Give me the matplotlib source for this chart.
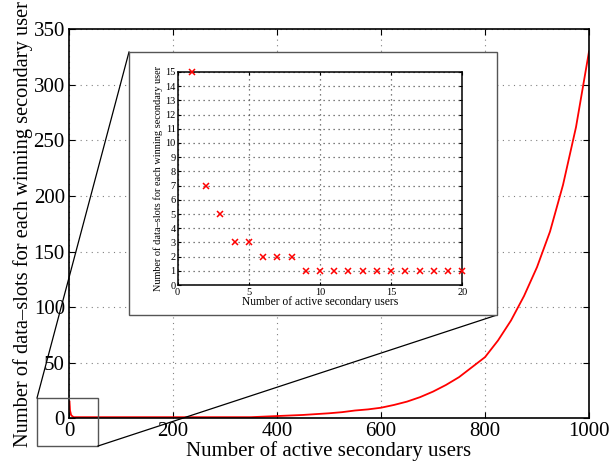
import matplotlib.pyplot as plt
import matplotlib.patches as mpatches
from matplotlib.lines import Line2D

# inset: first 20 users
users_small = list(range(1, 21))
slots_small = [15, 7, 5, 3, 3, 2, 2, 2, 1, 1, 1, 1, 1, 1, 1, 1, 1, 1, 1, 1]

# main curve, sampled by eye from the big plot
users_main = [1, 2, 3, 4, 6, 9, 100, 200, 300, 350, 400, 450, 500, 525, 550, 575,
              600, 625, 650, 675, 700, 725, 750, 775, 800, 825, 850, 875, 900,
              925, 950, 975, 1000]
slots_main = [15, 7, 5, 3, 2, 1, 1, 1, 1, 1, 2, 3, 4.5, 5.5, 7, 8,
              9.5, 12, 15, 19, 24, 30, 37, 46, 55, 70, 88, 110, 136,
              168, 210, 262, 330]

plt.rcParams['font.family'] = ['Liberation Serif', 'DejaVu Serif']

fig = plt.figure(figsize=(6.11, 4.66), dpi=100)
ax = fig.add_axes([0.1129, 0.1024, 0.964 - 0.1129, 0.937 - 0.1024])

ax.plot(users_main, slots_main, color='red', lw=1.3)
ax.set_xlim(0, 1000)
ax.set_ylim(0, 350)
ax.set_xticks([0, 200, 400, 600, 800, 1000])
ax.set_yticks(range(0, 351, 50))
ax.grid(True, linestyle=(0, (1, 4)), color='#808080', lw=0.8)
ax.tick_params(direction='in', top=True, right=True, labelsize=15, length=4, pad=3)
ax.tick_params(axis='x', pad=3)
ax.set_xlabel('Number of active secondary users', fontsize=15, labelpad=0)
ax.set_ylabel('Number of data\u2013slots for each winning secondary user', fontsize=14.7, labelpad=0)
for s in ax.spines.values():
    s.set_linewidth(1.2)

# zoom rectangle near the origin
zoom_box = mpatches.Rectangle((-61.5, -24.9), 117.3, 43.1, fill=False,
                              edgecolor='#555555', lw=1.0, clip_on=False, zorder=5)
ax.add_patch(zoom_box)

# white frame behind the inset
frame = mpatches.Rectangle((0.2111, 0.324), 0.8134 - 0.2111, 0.8884 - 0.324,
                           transform=fig.transFigure, facecolor='white',
                           edgecolor='#555555', lw=1.0, zorder=3)
fig.patches.append(frame)

# connector lines
fig.lines.append(Line2D([37 / 611, 129 / 611], [1 - 398 / 466, 1 - 52 / 466],
                        transform=fig.transFigure, color='black', lw=0.9))
fig.lines.append(Line2D([98 / 611, 497 / 611], [1 - 446 / 466, 1 - 315 / 466],
                        transform=fig.transFigure, color='black', lw=0.9))

axin = fig.add_axes([0.2908, 0.3884, 0.7566 - 0.2908, 0.8455 - 0.3884], zorder=4)
axin.plot(users_small, slots_small, 'x', color='red', ms=5, mew=1.1, clip_on=False, zorder=3)
axin.set_xlim(0, 20)
axin.set_ylim(0, 15)
axin.set_xticks([0, 5, 10, 15, 20])
axin.set_yticks(range(0, 16))
axin.tick_params(direction='in', top=True, right=True, labelsize=7.5, length=2.5, pad=1.5)
axin.tick_params(axis='x', pad=2.5)
for gl in axin.get_xgridlines() + axin.get_ygridlines():
    gl.set_visible(True)
axin.grid(True, which='major', linestyle=(0, (1, 3)), color='#555555', linewidth=0.9)
axin.set_xlabel('Number of active secondary users', fontsize=8.3, labelpad=-1)
axin.set_ylabel('Number of data\u2013slots for each winning secondary user', fontsize=7.4, labelpad=1.5)
for s in axin.spines.values():
    s.set_linewidth(1.1)

fig.savefig('out.png', dpi=100)
